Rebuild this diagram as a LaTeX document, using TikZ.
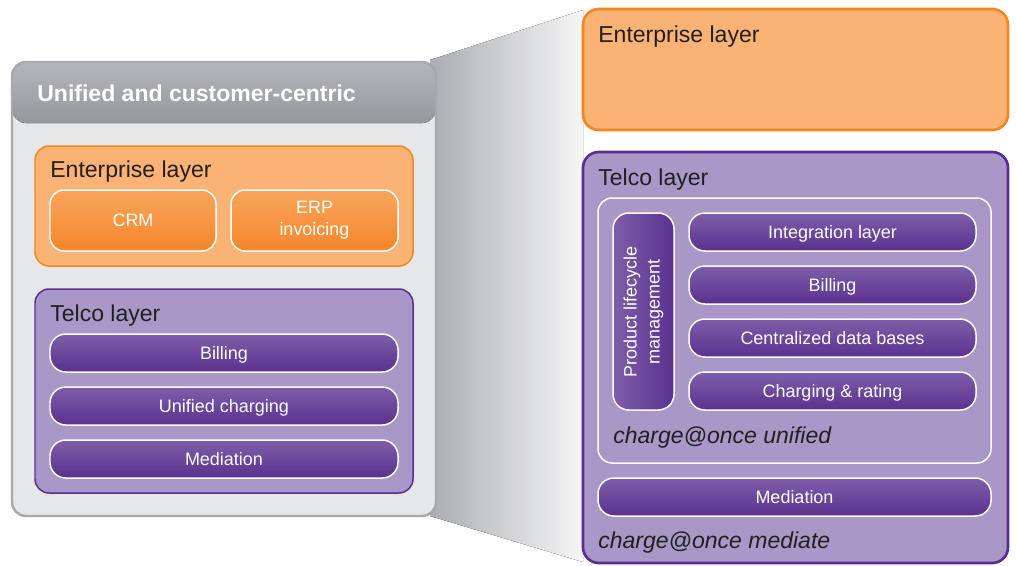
\documentclass[tikz,border=0pt]{standalone}
\usepackage{fontspec}
\setmainfont{Liberation Sans}
\usepackage{xcolor}
\usepackage{tikz}
\definecolor{UCPanel}{HTML}{E6E7E8}
\definecolor{UCPanelLine}{HTML}{A7A9AC}
\definecolor{UCHeadTop}{HTML}{B5B6B9}
\definecolor{UCHeadBot}{HTML}{97989B}
\definecolor{UCOrangeLight}{HTML}{FAB275}
\definecolor{UCOrangeLine}{HTML}{F5861F}
\definecolor{UCOrangeTop}{HTML}{F9A55C}
\definecolor{UCOrangeBot}{HTML}{F4872A}
\definecolor{UCPurpleLight}{HTML}{A897C7}
\definecolor{UCPurpleLine}{HTML}{5C2D91}
\definecolor{UCPurpleTop}{HTML}{7E5EA9}
\definecolor{UCPurpleBot}{HTML}{5A318F}
\definecolor{UCText}{HTML}{231F20}
\definecolor{UCFunnelL}{HTML}{ABADB0}
\definecolor{UCFunnelR}{HTML}{F6F6F7}

\begin{document}
\begin{tikzpicture}[x=0.02cm,y=-0.02cm,
  layerlabel/.style={anchor=base west,text=UCText,inner sep=0pt,font=\fontsize{13.1}{15.7}\selectfont},
  boxtext/.style={text=white,inner sep=0pt,font=\fontsize{10.24}{12.5}\selectfont},
  boxline/.style={boxtext,text height=.716em,text depth=0pt},
  obox/.style={draw=white,line width=.85pt,rounded corners=8pt,top color=UCOrangeTop,bottom color=UCOrangeBot},
  pbar/.style={draw=white,line width=.85pt,rounded corners=9pt,top color=UCPurpleTop,bottom color=UCPurpleBot},
  pbarv/.style={draw=white,line width=.85pt,rounded corners=9pt,left color=UCPurpleTop,right color=UCPurpleBot}]
\path[use as bounding box] (0,0) rectangle (1016,565);
% zoom funnel
\fill[left color=UCFunnelL,right color=UCFunnelR] (430,60) -- (583,10) -- (583,562) -- (430,516) -- cycle;
% left panel
\fill[UCPanel,rounded corners=8pt] (12,62) rectangle (436,516);
\fill[top color=UCHeadTop,bottom color=UCHeadBot,rounded corners=8pt] (12,62) rectangle (436,123);
\draw[UCPanelLine,line width=1.4pt,rounded corners=8pt] (12,62) rectangle (436,516);
\node[anchor=base west,inner sep=0pt,text=white,font=\fontsize{13.1}{15.7}\selectfont\bfseries] (ucTitle) at (37,101) {Unified and customer-centric};
\draw[UCOrangeLine,fill=UCOrangeLight,line width=.85pt,rounded corners=8pt] (35,146) rectangle (413,266);
\node[layerlabel] (entLabelL) at (50,177) {Enterprise layer};
\draw[obox] (50,190) rectangle (216,251);
\node[boxline] (crm) at (133,220.5) {CRM};
\draw[obox] (231,190) rectangle (398,251);
\node[boxtext,align=center] (erp) at (314.5,220.5) {ERP\\invoicing};
\draw[UCPurpleLine,fill=UCPurpleLight,line width=.85pt,rounded corners=8pt] (35,289) rectangle (413,493);
\node[layerlabel] (telLabelL) at (50,321) {Telco layer};
\foreach \y/\name/\txt in {334/billL/Billing,387/chgL/Unified charging,440/medL/Mediation}{
  \draw[pbar] (50,\y) rectangle (398,\y+38);
  \node[boxline] (\name) at (224,\y+19) {\txt};
}
% right side
\draw[UCOrangeLine,fill=UCOrangeLight,line width=1.5pt,rounded corners=9pt] (583,9) rectangle (1008,130);
\node[layerlabel] (entLabelR) at (598,42) {Enterprise layer};
\draw[UCPurpleLine,fill=UCPurpleLight,line width=1.5pt,rounded corners=9pt] (583,152) rectangle (1008,563);
\node[layerlabel] (telLabelR) at (598,185) {Telco layer};
\draw[white,line width=.85pt,rounded corners=8pt] (598,198) rectangle (991,463);
\draw[pbarv] (613,213) rectangle (674,410);
\node[boxtext,rotate=90,align=center,font=\fontsize{10.24}{13}\selectfont] (plm) at (643.5,311.5) {Product lifecycle\\management};
\foreach \y/\name/\txt in {213/integR/Integration layer,266/billR/Billing,319/dbR/Centralized data bases,372/chgR/Charging \& rating}{
  \draw[pbar] (689,\y) rectangle (976,\y+38);
  \node[boxline] (\name) at (832.5,\y+19) {\txt};
}
\node[layerlabel,font=\fontsize{13.1}{15.7}\selectfont\itshape] (unified) at (613,443) {charge@once unified};
\draw[pbar] (598,478) rectangle (991,516);
\node[boxline] (medR) at (794.5,497) {Mediation};
\node[layerlabel,font=\fontsize{13.1}{15.7}\selectfont\itshape] (mediate) at (598,548) {charge@once mediate};
\end{tikzpicture}
\end{document}
